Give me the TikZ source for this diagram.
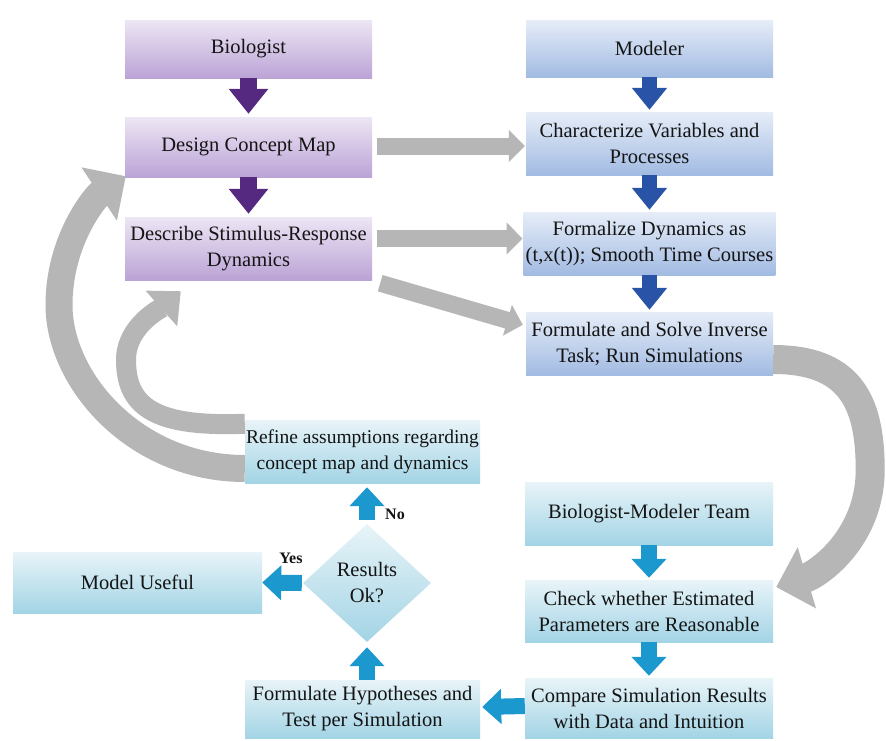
\documentclass[tikz,border=0pt]{standalone}
\usepackage{fontspec}
\setmainfont{Liberation Serif}
\usetikzlibrary{arrows.meta,shapes.geometric}
\definecolor{purT}{HTML}{EDE6F4}
\definecolor{purB}{HTML}{BBA3D6}
\definecolor{bluT}{HTML}{E6EDF8}
\definecolor{bluB}{HTML}{A2BBE2}
\definecolor{teaT}{HTML}{E8F4F8}
\definecolor{teaB}{HTML}{A3D4E5}
\definecolor{purA}{HTML}{55297F}
\definecolor{bluA}{HTML}{2953A6}
\definecolor{teaA}{HTML}{1B98CE}
\definecolor{grayA}{HTML}{B6B6B6}
\definecolor{txt}{HTML}{141414}
\begin{document}
\begin{tikzpicture}[x=1pt,y=-1pt,
  box/.style={rectangle, inner sep=2pt, align=center, text=txt, font=\fontsize{20.5}{26}\selectfont},
  pbox/.style={box, top color=purT, bottom color=purB, minimum width=247pt},
  bbox/.style={box, top color=bluT, bottom color=bluB, minimum width=247pt},
  tbox/.style={box, top color=teaT, bottom color=teaB},
  parrow/.style={draw=purA, line width=17pt, -{Triangle[length=25pt,width=38pt]}},
  barrow/.style={draw=bluA, line width=15pt, -{Triangle[length=22pt,width=34pt]}},
  tarrow/.style={draw=teaA, line width=16pt, -{Triangle[length=19pt,width=34pt]}},
  garrow/.style={draw=grayA, line width=17pt, -{Triangle[length=16pt,width=31pt]}},
  gbig/.style={draw=grayA, line width=29pt, -{Triangle[length=32pt,width=62pt]}},
  gmid/.style={draw=grayA, line width=20pt, -{Triangle[length=26pt,width=46pt]}},
  lbl/.style={text=txt, font=\fontsize{16}{18}\selectfont\bfseries, inner sep=0pt}
]
\useasboundingbox (0,0) rectangle (886,740);
\fill[white] (0,0) rectangle (886,740);

% purple column
\node[pbox, minimum height=58pt] (bio) at (248.5,49) {Biologist};
\node[pbox, minimum height=60pt] (design) at (248.5,147) {Design Concept Map};
\node[pbox, minimum height=63pt] (desc) at (248.5,248.5) {Describe Stimulus-Response\\Dynamics};

% blue column
\node[bbox, minimum height=57pt] (mod) at (649.5,48.5) {Modeler};
\node[bbox, minimum height=63pt] (char) at (649.5,143.5) {Characterize Variables and\\Processes};
\node[bbox, minimum height=63pt] (formal) at (649.5,243.5) {Formalize Dynamics as\\(t,x(t)); Smooth Time Courses};
\node[bbox, minimum height=63pt] (solve) at (649.5,343.5) {Formulate and Solve Inverse\\Task; Run Simulations};

% teal boxes
\node[tbox, minimum width=248pt, minimum height=63pt] (team) at (649,513.5) {Biologist-Modeler Team};
\node[tbox, minimum width=248pt, minimum height=62pt] (check) at (649,611) {Check whether Estimated\\Parameters are Reasonable};
\node[tbox, minimum width=248pt, minimum height=60pt] (comp) at (649,708) {Compare Simulation Results\\with Data and Intuition};
\node[tbox, inner xsep=0pt, font=\fontsize{19.5}{26}\selectfont, minimum width=235pt, minimum height=63pt] (refine) at (362.5,451.5) {Refine assumptions regarding\\concept map and dynamics};
\node[tbox, inner xsep=0pt, minimum width=235pt, minimum height=58pt] (hyp) at (362.5,709) {Formulate Hypotheses and\\Test per Simulation};
\node[tbox, minimum width=249pt, minimum height=61pt] (useful) at (137.5,582.5) {Model Useful};
\node[box, diamond, top color=teaT, bottom color=teaB, inner sep=0pt, minimum width=128pt, minimum height=118pt] (ok) at (367,583) {Results\\Ok?};

% labels
\node[lbl] (yes) at (291,558) {Yes};
\node[lbl] (no) at (395,514) {No};

% block arrows
\draw[parrow] (bio.south) -- ([yshift=3pt]design.north);
\draw[parrow] (design.south) -- ([yshift=3pt]desc.north);
\draw[barrow] (mod.south) -- ([yshift=2pt]char.north);
\draw[barrow] (char.south) -- ([yshift=2pt]formal.north);
\draw[barrow] (formal.south) -- ([yshift=2pt]solve.north);
\draw[tarrow] (team.south) -- ([yshift=2pt]check.north);
\draw[tarrow] (check.south) -- ([yshift=2pt]comp.north);
\draw[tarrow] ([yshift=2pt]comp.west) -- ([xshift=2pt,yshift=2pt]hyp.east);
\draw[tarrow] (hyp.north -| ok.south) -- ([yshift=-5pt]ok.south);
\draw[tarrow] ([yshift=4pt]ok.north) -- ([yshift=-4pt]refine.south -| ok.north);
\draw[tarrow] ([xshift=-1pt]ok.west) -- (useful.east);

% gray arrows
\draw[garrow] ([xshift=5pt,yshift=1pt]design.east) -- ([xshift=-1pt,yshift=-2.5pt]char.west);
\draw[garrow] ([xshift=5pt,yshift=10pt]desc.east) -- ([xshift=-1pt,yshift=5pt]formal.west);
\draw[garrow] ([xshift=8pt,yshift=-3pt]desc.south east) -- ([xshift=-3pt,yshift=-13pt]solve.north west);

\draw[gbig] ([yshift=-16pt]solve.east) .. controls +(75,0) and +(0,-70) .. ++(97,110)
  .. controls +(0,70) and +(40,-12) .. ([xshift=3pt,yshift=24pt]check.east);

\draw[gbig, line width=27pt] ([yshift=-17pt]refine.west) .. controls +(-110,0) and +(0,75) .. (59,305)
  .. controls +(0,-65) and +(-30,20) .. ([xshift=1pt,yshift=1pt]design.south west);

\draw[gmid] ([yshift=-4pt]refine.north west) .. controls +(-85,3) and +(0,50) .. (126,360)
  .. controls +(0,-35) and +(-18,16) .. ([xshift=56pt,yshift=-11pt]desc.south west);
\end{tikzpicture}
\end{document}
